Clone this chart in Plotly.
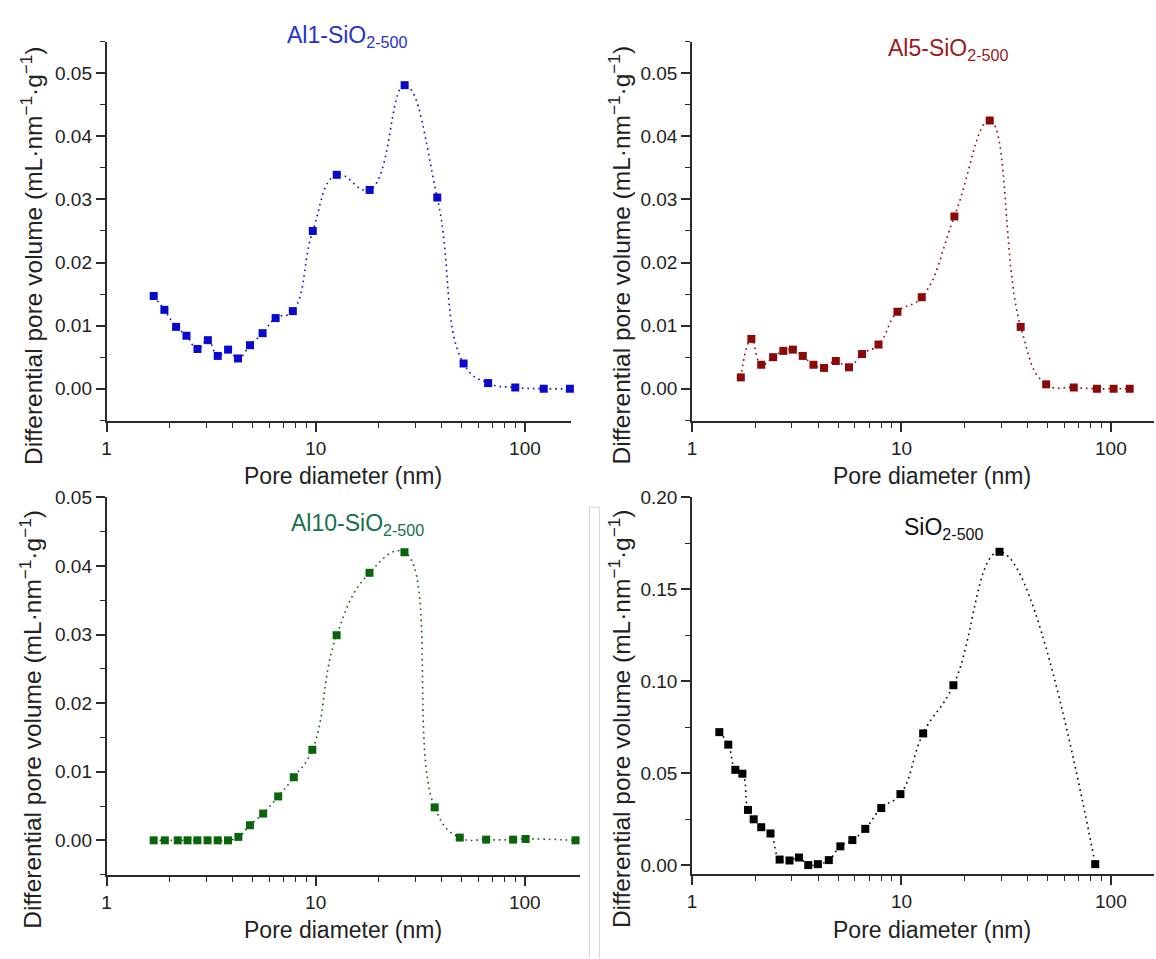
import plotly.graph_objects as go

# Pore size distributions (BJH-type), differential pore volume vs pore diameter
al1_d = [1.68, 1.89, 2.15, 2.41, 2.72, 3.05, 3.40, 3.81, 4.25, 4.85, 5.57, 6.43,
         7.77, 9.68, 12.6, 18.1, 26.6, 38.1, 50.9, 66.7, 89.9, 123, 164]
al1_v = [0.0147, 0.0125, 0.0098, 0.0084, 0.0063, 0.0077, 0.0052, 0.0062, 0.0048,
         0.0069, 0.0088, 0.0112, 0.0123, 0.0250, 0.0339, 0.0315, 0.0481, 0.0303,
         0.0040, 0.0009, 0.0002, 0.0, 0.0]

al5_d = [1.71, 1.92, 2.14, 2.44, 2.73, 3.03, 3.38, 3.80, 4.27, 4.86, 5.62, 6.48,
         7.77, 9.57, 12.5, 17.9, 26.4, 37.1, 49.1, 66.5, 85.8, 103, 123]
al5_v = [0.0018, 0.0079, 0.0038, 0.0050, 0.0060, 0.0062, 0.0052, 0.0038, 0.0033,
         0.0044, 0.0034, 0.0055, 0.0070, 0.0122, 0.0145, 0.0273, 0.0425, 0.0098,
         0.0007, 0.0002, 0.0, 0.0, 0.0]

al10_d = [1.68, 1.90, 2.19, 2.44, 2.72, 3.04, 3.40, 3.81, 4.27, 4.85, 5.61, 6.62,
          7.86, 9.64, 12.6, 18.1, 26.6, 37.1, 48.9, 65.4, 88.0, 101, 175]
al10_v = [0.0, 0.0, 0.0, 0.0, 0.0, 0.0, 0.0, 0.0, 0.0005, 0.0022, 0.0039, 0.0064,
          0.0092, 0.0132, 0.0299, 0.0390, 0.0420, 0.0048, 0.0004, 0.0001, 0.0001,
          0.0002, 0.0]

sio2_d = [1.35, 1.49, 1.61, 1.74, 1.85, 1.97, 2.14, 2.37, 2.62, 2.92, 3.24, 3.59,
          3.99, 4.50, 5.11, 5.83, 6.72, 8.01, 9.89, 12.7, 17.7, 29.4, 84.2]
sio2_v = [0.0723, 0.0655, 0.0518, 0.0497, 0.0300, 0.0249, 0.0206, 0.0172, 0.0030,
          0.0025, 0.0041, 0.0, 0.0005, 0.0027, 0.0102, 0.0136, 0.0197, 0.0310,
          0.0386, 0.0716, 0.0978, 0.1704, 0.0005]

x_tickvals = [1, 10, 100]
x_ticktext = ["1", "10", "100"]

W, H = 1156, 959
FONT = "Arial, 'Liberation Sans', sans-serif"
AX = "#2b2b2b"


def px(x):
    return x / W


def py(y):
    return 1 - y / H


panels = [
    # label, data, marker colour, label colour, log x-range, y-range, y step,
    # plot box (left, right, top, bottom) and label centre in pixels
    dict(name="Al1-SiO<sub>2-500</sub>", d=al1_d, v=al1_v, c="#0a0acc", tc="#2432cf",
         xr=[0, 2.218], yr=[-0.0051, 0.055], dt=0.01,
         box=(102, 568, 32, 415.7), tpos=(343, 27), xt=(339, 471), yt=(26, 248)),
    dict(name="Al5-SiO<sub>2-500</sub>", d=al5_d, v=al5_v, c="#8a0a0a", tc="#9a1c1c",
         xr=[0, 2.206], yr=[-0.0051, 0.055], dt=0.01,
         box=(690, 1154, 32, 415.7), tpos=(947, 40), xt=(931, 471), yt=(617, 248)),
    dict(name="Al10-SiO<sub>2-500</sub>", d=al10_d, v=al10_v, c="#0b640b", tc="#17704a",
         xr=[0, 2.262], yr=[-0.00505, 0.05], dt=0.01,
         box=(102, 577, 493, 875), tpos=(354, 520), xt=(339, 931), yt=(26, 717)),
    dict(name="SiO<sub>2-500</sub>", d=sio2_d, v=sio2_v, c="#000000", tc="#111111",
         xr=[0, 2.206], yr=[-0.005, 0.2], dt=0.05,
         box=(690, 1154, 493, 874.3), tpos=(943, 525), xt=(931, 931), yt=(617, 717)),
]

fig = go.Figure()
layout = dict(
    width=W, height=H, margin=dict(l=0, r=0, t=0, b=0),
    paper_bgcolor="white", plot_bgcolor="white", showlegend=False,
    font=dict(family=FONT, color="#222"),
)
annotations = []

for i, p in enumerate(panels, start=1):
    sx = "" if i == 1 else str(i)
    fig.add_trace(go.Scatter(
        x=p["d"], y=p["v"], mode="lines+markers",
        line=dict(color=p["c"], width=1.6, dash="1.6px,4px", shape="spline", smoothing=1.3),
        marker=dict(symbol="square", size=8, color=p["c"]),
        xaxis="x" + sx, yaxis="y" + sx, cliponaxis=False,
    ))
    l, r, t, b = p["box"]
    layout["xaxis" + sx] = dict(
        type="log", range=p["xr"], domain=[px(l), px(r)], anchor="y" + sx,
        showline=True, linecolor=AX, linewidth=1.6, mirror=False,
        ticks="outside", ticklen=9, tickwidth=1.5, tickcolor=AX,
        tickvals=x_tickvals, ticktext=x_ticktext,
        tickfont=dict(size=19, color="#222", family=FONT),
        minor=dict(ticks="outside", ticklen=5, tickwidth=1.2, tickcolor=AX,
                   dtick="D1", showgrid=False),
        showgrid=False, zeroline=False,
    )
    layout["yaxis" + sx] = dict(
        range=p["yr"], domain=[py(b), py(t)], anchor="x" + sx,
        showline=True, linecolor=AX, linewidth=1.6,
        ticks="outside", ticklen=9, tickwidth=1.5, tickcolor=AX,
        tick0=0, dtick=p["dt"], tickformat=".2f",
        tickfont=dict(size=19, color="#222", family=FONT),
        minor=dict(ticks="outside", ticklen=5, tickwidth=1.2, tickcolor=AX,
                   dtick=p["dt"] / 2, tick0=0, showgrid=False),
        showgrid=False, zeroline=False,
    )
    # sample label
    annotations.append(dict(
        text=p["name"], x=px(p["tpos"][0]), y=py(p["tpos"][1]),
        xref="paper", yref="paper", xanchor="center", yanchor="middle",
        showarrow=False, font=dict(size=23, color=p["tc"], family=FONT),
    ))
    # axis titles
    annotations.append(dict(
        text="Pore diameter (nm)", x=px(p["xt"][0]), y=py(p["xt"][1]),
        xref="paper", yref="paper", xanchor="center", yanchor="middle",
        showarrow=False, font=dict(size=23, color="#222", family=FONT),
    ))
    annotations.append(dict(
        text="Differential pore volume (mL·nm<sup>−1</sup>·g<sup>−1</sup>)",
        x=px(p["yt"][0]), y=py(p["yt"][1]), xref="paper", yref="paper",
        xanchor="center", yanchor="middle", textangle=-90,
        showarrow=False, font=dict(size=24.5, color="#222", family=FONT),
    ))

layout["annotations"] = annotations

# thin grey frame edge between the lower panels
frame = dict(color="#d4d4d4", width=1)
layout["shapes"] = [
    dict(type="line", xref="paper", yref="paper", x0=px(587), x1=px(587),
         y0=py(503), y1=py(959), line=frame),
    dict(type="line", xref="paper", yref="paper", x0=px(597), x1=px(597),
         y0=py(503), y1=py(959), line=frame),
    dict(type="line", xref="paper", yref="paper", x0=px(587), x1=px(597),
         y0=py(503), y1=py(503), line=frame),
]

fig.update_layout(**layout)
fig.write_html("out.html")
